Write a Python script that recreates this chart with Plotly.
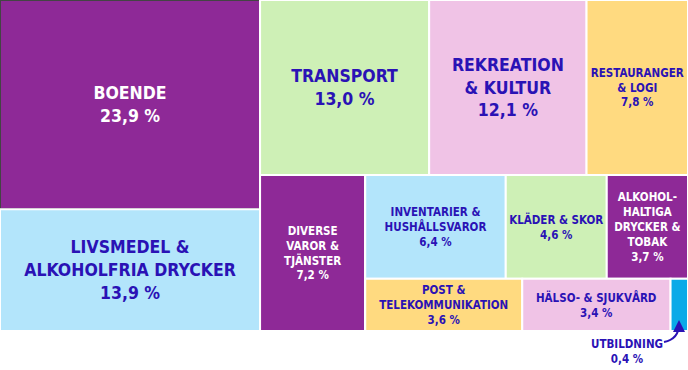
import plotly.graph_objects as go

# ---- data -------------------------------------------------------------
names = [
    "BOENDE",
    "LIVSMEDEL &\nALKOHOLFRIA DRYCKER",
    "TRANSPORT",
    "REKREATION\n& KULTUR",
    "RESTAURANGER\n& LOGI",
    "DIVERSE\nVAROR &\nTJÄNSTER",
    "INVENTARIER &\nHUSHÅLLSVAROR",
    "KLÄDER & SKOR",
    "ALKOHOL-\nHALTIGA\nDRYCKER &\nTOBAK",
    "POST &\nTELEKOMMUNIKATION",
    "HÄLSO- & SJUKVÅRD",
    "UTBILDNING",
]
shares = [23.9, 13.9, 13.0, 12.1, 7.8, 7.2, 6.4, 4.6, 3.7, 3.6, 3.4, 0.4]

# ---- styles -----------------------------------------------------------
PURPLE = "#8E2997"
BLUE_L = "#B3E5FB"
GREEN = "#CEF0B6"
PINK = "#F0C3E6"
YELLOW = "#FFDA80"
BLUE = "#0AAAE8"
INK = "#2A12B5"
tile_colors = [PURPLE, BLUE_L, GREEN, PINK, YELLOW, PURPLE, BLUE_L, GREEN,
               PURPLE, YELLOW, PINK, BLUE]
text_colors = ["white", INK, INK, INK, INK, "white", INK, INK, "white",
               INK, INK, INK]
text_sizes = [17.5, 17.5, 17.5, 17.5, 11.5, 11.5, 11.5, 11.5, 11.5, 11.5, 11.5, 11.5]
FONT = "Liberation Sans Narrow, DejaVu Sans Condensed, Roboto Condensed, Liberation Sans, sans-serif"

# layout structure (slice-dice nesting of the leaves, by index)
tree = ("root", [
    ("A", [0, 1]),
    ("B", [
        ("B1", [2, 3, 4]),
        ("B2", [5, ("B2r", [("B2rt", [6, 7, 8]), ("B2rb", [9, 10, 11])])]),
    ]),
])


def fmt(v):
    return f"{v:.1f}".replace(".", ",") + " %"


ids, parents, values, colors, texts, tcolors, tsizes = [], [], [], [], [], [], []


def walk(node, parent):
    if isinstance(node, int):
        i = node
        ids.append(f"leaf{i}")
        parents.append(parent)
        values.append(shares[i])
        colors.append(tile_colors[i])
        if i == len(shares) - 1:
            texts.append("")
        else:
            texts.append("<b>" + names[i].replace("\n", "<br>") + "<br>" + fmt(shares[i]) + "</b>")
        tcolors.append(text_colors[i])
        tsizes.append(text_sizes[i])
        return
    gid, kids = node
    ids.append(gid)
    parents.append(parent)
    values.append(0)
    colors.append("white")
    texts.append("")
    tcolors.append("white")
    tsizes.append(10)
    for k in kids:
        walk(k, gid)


walk(tree, "")

W, H = 688, 370
BOTTOM = 331

fig = go.Figure(go.Treemap(
    ids=ids,
    labels=ids,
    parents=parents,
    values=values,
    branchvalues="remainder",
    sort=False,
    text=texts,
    textinfo="text",
    textposition="middle center",
    textfont=dict(family=FONT, color=tcolors, size=tsizes),
    marker=dict(colors=colors, line=dict(color="white", width=2),
                pad=dict(t=0, l=0, r=0, b=0), depthfade=False),
    tiling=dict(packing="slice-dice", pad=0),
    pathbar=dict(visible=False),
    hoverinfo="skip",
    domain=dict(x=[0, 1], y=[1 - BOTTOM / H, 1]),
))


def px(x):
    return x / W


def py(y):
    return 1 - y / H


# label for the tiny tile + curved arrow
fig.add_annotation(
    x=px(627), y=py(351), xref="paper", yref="paper",
    xanchor="center", yanchor="middle",
    text=f"<b>{names[-1]}<br>{fmt(shares[-1])}</b>",
    showarrow=False, font=dict(family=FONT, size=11.5, color=INK),
    align="center",
)
fig.add_shape(
    type="path", xref="paper", yref="paper",
    path=f"M {px(664)} {py(342)} Q {px(679)} {py(339)} {px(679)} {py(324)}",
    line=dict(color=INK, width=2),
)
fig.add_annotation(
    x=px(679), y=py(320), xref="paper", yref="paper",
    ax=0, ay=6, text="", showarrow=True,
    arrowhead=2, arrowsize=1.2, arrowwidth=2, arrowcolor=INK, standoff=0,
)

fig.update_layout(
    width=W, height=H,
    margin=dict(l=0, r=0, t=0, b=0),
    paper_bgcolor="white",
    plot_bgcolor="white",
    showlegend=False,
    font=dict(family=FONT),
)

fig.write_html("out.html", config={"displayModeBar": False},
               post_script="document.body.style.margin='0px';")
